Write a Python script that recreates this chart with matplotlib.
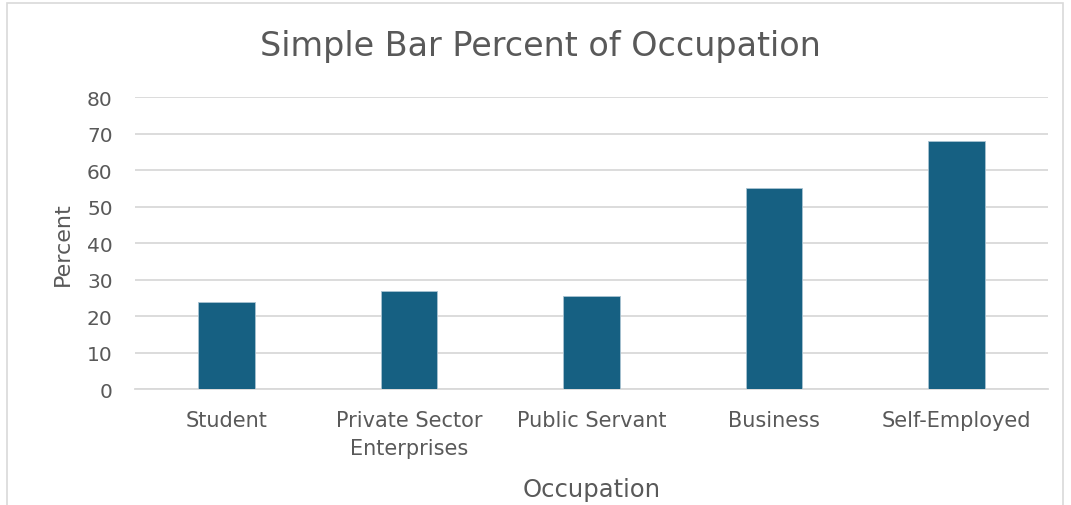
import matplotlib.pyplot as plt
from matplotlib.patches import Rectangle

occupations = ["Student", "Private Sector\nEnterprises", "Public Servant", "Business", "Self-Employed"]
percent = [24.0, 27.0, 25.6, 55.0, 68.0]
y_ticks = [0, 10, 20, 30, 40, 50, 60, 70, 80]

text_grey = "#595959"
bar_blue = "#166082"

plt.rcParams["font.family"] = ["DejaVu Sans"]

fig = plt.figure(figsize=(10.71, 5.06), dpi=100)
ax = fig.add_axes([0.126, 0.229, 0.8525, 0.577])

# light frame round the whole chart area
fig.patches.append(Rectangle((7 / 1071, -0.05), 1056 / 1071, 1.05 - 4 / 506,
                             transform=fig.transFigure, fill=False,
                             edgecolor="#d9d9d9", linewidth=1.2))

x = range(len(occupations))
ax.bar(x, percent, width=0.31, color=bar_blue, edgecolor="#a9c3d1", linewidth=0.6, zorder=3)

ax.set_xlim(-0.5, len(occupations) - 0.5)
ax.set_ylim(0, 80)
ax.set_yticks(y_ticks)
ax.set_xticks(list(x))
ax.set_xticklabels(occupations, fontsize=15, color=text_grey, linespacing=1.5)
ax.tick_params(axis="y", labelsize=14.5, labelcolor=text_grey, length=0, pad=16)
ax.tick_params(axis="x", length=0, pad=15)
ax.yaxis.grid(True, color="#d9d9d9", linewidth=1.3, zorder=0)
for side in ["top", "right", "left"]:
    ax.spines[side].set_visible(False)
ax.spines["bottom"].set_color("#d9d9d9")
ax.spines["bottom"].set_linewidth(1.3)

fig.text(0.505, 0.909, "Simple Bar Percent of Occupation", fontsize=24,
         color=text_grey, ha="center", va="center")
ax.set_xlabel("Occupation", fontsize=17.5, color=text_grey, labelpad=14)
ax.set_ylabel("Percent", fontsize=16, color=text_grey, labelpad=10)

fig.savefig("out.png", dpi=100)
